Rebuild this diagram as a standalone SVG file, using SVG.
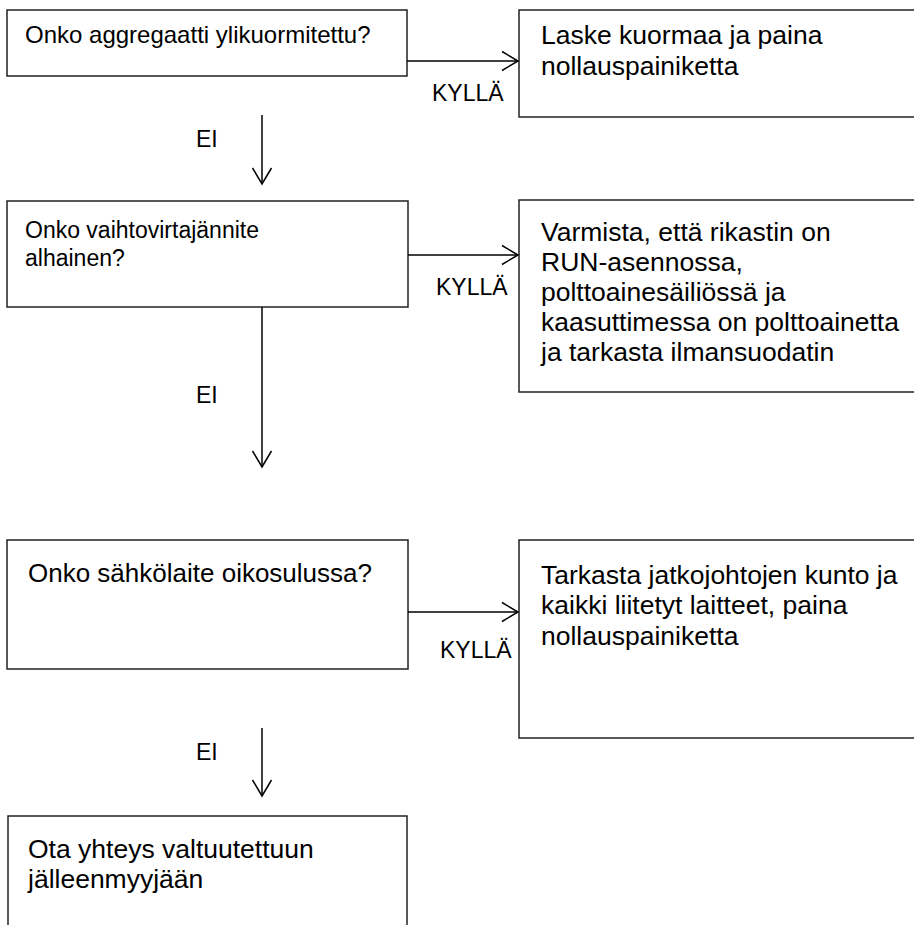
<svg xmlns="http://www.w3.org/2000/svg" width="914" height="925" viewBox="0 0 914 925">
<style>
.box{fill:#fff;stroke:#222;stroke-width:1.5}
.t{font-family:"Liberation Sans",Arial,sans-serif;fill:#000}
.conn{stroke:#000;stroke-width:1.5;fill:none}
</style>
<defs>
<marker id="ah" markerWidth="18" markerHeight="22" refX="16.5" refY="10.5" orient="auto" markerUnits="userSpaceOnUse" overflow="visible">
<path d="M0.5,1 L16.5,10.5 L0.5,20" fill="none" stroke="#000" stroke-width="1.5"/>
</marker>
</defs>
<rect width="914" height="925" fill="#fff"/>
<g id="n1"><rect class="box" x="7" y="10" width="400" height="66"/><text class="t" x="25" y="43" font-size="24">Onko aggregaatti ylikuormitettu?</text></g>
<g id="n2"><rect class="box" x="519" y="10" width="420" height="107"/><text class="t" x="541" y="44" font-size="26.5">Laske kuormaa ja paina</text><text class="t" x="541" y="75" font-size="26.5">nollauspainiketta</text></g>
<g id="n3"><rect class="box" x="7" y="201" width="401" height="106"/><text class="t" x="25" y="238" font-size="23">Onko vaihtovirtajännite</text><text class="t" x="25" y="266" font-size="23">alhainen?</text></g>
<g id="n4"><rect class="box" x="519" y="200" width="420" height="192"/><text class="t" x="541" y="241" font-size="26.5">Varmista, että rikastin on</text><text class="t" x="541" y="271" font-size="26.5">RUN-asennossa,</text><text class="t" x="541" y="301" font-size="26.5">polttoainesäiliössä ja</text><text class="t" x="541" y="331" font-size="26.5">kaasuttimessa on polttoainetta</text><text class="t" x="541" y="361" font-size="26.5">ja tarkasta ilmansuodatin</text></g>
<g id="n5"><rect class="box" x="7" y="540" width="401" height="129"/><text class="t" x="28" y="582" font-size="26">Onko sähkölaite oikosulussa?</text></g>
<g id="n6"><rect class="box" x="519" y="540" width="420" height="198"/><text class="t" x="541" y="584" font-size="26.5">Tarkasta jatkojohtojen kunto ja</text><text class="t" x="541" y="614" font-size="26.5">kaikki liitetyt laitteet, paina</text><text class="t" x="541" y="645" font-size="26.5">nollauspainiketta</text></g>
<g id="n7"><rect class="box" x="8" y="816" width="399" height="130"/><text class="t" x="28" y="858" font-size="26.5">Ota yhteys valtuutettuun</text><text class="t" x="28" y="888" font-size="26.5">jälleenmyyjään</text></g>
<g id="connectors">
<line class="conn" x1="407" y1="61" x2="518" y2="61" marker-end="url(#ah)"/>
<text class="t" x="432" y="101" font-size="23">KYLLÄ</text>
<line class="conn" x1="262" y1="115" x2="262" y2="184" marker-end="url(#ah)"/>
<text class="t" x="196" y="147" font-size="23">EI</text>
<line class="conn" x1="408" y1="255" x2="518" y2="255" marker-end="url(#ah)"/>
<text class="t" x="436" y="295" font-size="23">KYLLÄ</text>
<line class="conn" x1="262" y1="307" x2="262" y2="467" marker-end="url(#ah)"/>
<text class="t" x="196" y="403" font-size="23">EI</text>
<line class="conn" x1="408" y1="612" x2="518" y2="612" marker-end="url(#ah)"/>
<text class="t" x="440" y="658" font-size="23">KYLLÄ</text>
<line class="conn" x1="262" y1="728" x2="262" y2="796" marker-end="url(#ah)"/>
<text class="t" x="196" y="760" font-size="23">EI</text>
</g>
</svg>
